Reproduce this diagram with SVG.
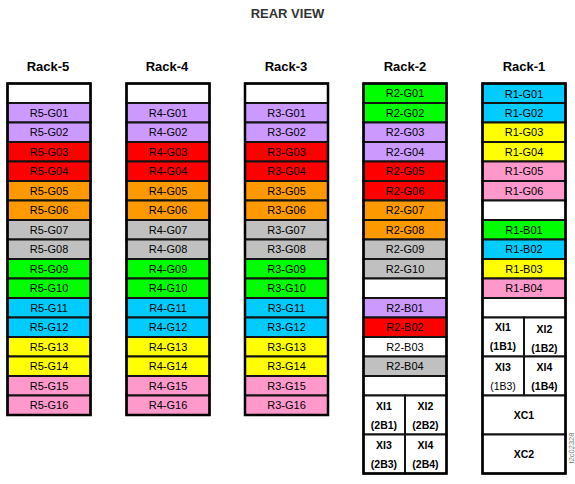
<svg xmlns="http://www.w3.org/2000/svg" width="575" height="484" viewBox="0 0 575 484">
<style>
text{font-family:"Liberation Sans",Arial,sans-serif;fill:#000;text-anchor:middle}
.title{font-size:13px;font-weight:bold;fill:#333}
.rl{font-size:13px;font-weight:bold}
.t{font-size:11px}
.b{font-size:10.5px;font-weight:bold}
.n{font-size:10.5px;font-weight:normal}
rect{stroke:#141414;stroke-width:2}
.rack{fill:none;stroke:#000;stroke-width:2.5}
.w{fill:#fff}.lv{fill:#cc99ff}.rd{fill:#ff0000}.or{fill:#ff9900}.gy{fill:#c0c0c0}.gn{fill:#00ff00}.cy{fill:#00ccff}.yl{fill:#ffff00}.pk{fill:#ff99cc}
.wm{font-size:7.5px;fill:#777}
</style>
<text class="title" x="287.5" y="18">REAR VIEW</text>
<g id="rack-labels">
<text class="rl" x="48" y="71">Rack-5</text>
<text class="rl" x="167" y="71">Rack-4</text>
<text class="rl" x="286" y="71">Rack-3</text>
<text class="rl" x="405" y="71">Rack-2</text>
<text class="rl" x="524" y="71">Rack-1</text>
</g>
<g id="connectors"/>

<g id="rack5">
<g id="r5-blank"><rect class="w" x="7.5" y="83.5" width="83" height="19.5"/></g>
<g id="R5-G01"><rect class="lv" x="7.5" y="103" width="83" height="19.5"/><text class="t" x="49" y="116.7">R5-G01</text></g>
<g id="R5-G02"><rect class="lv" x="7.5" y="122.5" width="83" height="19.5"/><text class="t" x="49" y="136.2">R5-G02</text></g>
<g id="R5-G03"><rect class="rd" x="7.5" y="142" width="83" height="19.5"/><text class="t" x="49" y="155.7">R5-G03</text></g>
<g id="R5-G04"><rect class="rd" x="7.5" y="161.5" width="83" height="19.5"/><text class="t" x="49" y="175.2">R5-G04</text></g>
<g id="R5-G05"><rect class="or" x="7.5" y="181" width="83" height="19.5"/><text class="t" x="49" y="194.7">R5-G05</text></g>
<g id="R5-G06"><rect class="or" x="7.5" y="200.5" width="83" height="19.5"/><text class="t" x="49" y="214.2">R5-G06</text></g>
<g id="R5-G07"><rect class="gy" x="7.5" y="220" width="83" height="19.5"/><text class="t" x="49" y="233.7">R5-G07</text></g>
<g id="R5-G08"><rect class="gy" x="7.5" y="239.5" width="83" height="19.5"/><text class="t" x="49" y="253.2">R5-G08</text></g>
<g id="R5-G09"><rect class="gn" x="7.5" y="259" width="83" height="19.5"/><text class="t" x="49" y="272.7">R5-G09</text></g>
<g id="R5-G10"><rect class="gn" x="7.5" y="278.5" width="83" height="19.5"/><text class="t" x="49" y="292.2">R5-G10</text></g>
<g id="R5-G11"><rect class="cy" x="7.5" y="298" width="83" height="19.5"/><text class="t" x="49" y="311.7">R5-G11</text></g>
<g id="R5-G12"><rect class="cy" x="7.5" y="317.5" width="83" height="19.5"/><text class="t" x="49" y="331.2">R5-G12</text></g>
<g id="R5-G13"><rect class="yl" x="7.5" y="337" width="83" height="19.5"/><text class="t" x="49" y="350.7">R5-G13</text></g>
<g id="R5-G14"><rect class="yl" x="7.5" y="356.5" width="83" height="19.5"/><text class="t" x="49" y="370.2">R5-G14</text></g>
<g id="R5-G15"><rect class="pk" x="7.5" y="376" width="83" height="19.5"/><text class="t" x="49" y="389.7">R5-G15</text></g>
<g id="R5-G16"><rect class="pk" x="7.5" y="395.5" width="83" height="19.5"/><text class="t" x="49" y="409.2">R5-G16</text></g>
<rect class="rack" x="7.5" y="83.5" width="83" height="331.5"/>
</g>

<g id="rack4">
<g id="r4-blank"><rect class="w" x="126.5" y="83.5" width="83" height="19.5"/></g>
<g id="R4-G01"><rect class="lv" x="126.5" y="103" width="83" height="19.5"/><text class="t" x="168" y="116.7">R4-G01</text></g>
<g id="R4-G02"><rect class="lv" x="126.5" y="122.5" width="83" height="19.5"/><text class="t" x="168" y="136.2">R4-G02</text></g>
<g id="R4-G03"><rect class="rd" x="126.5" y="142" width="83" height="19.5"/><text class="t" x="168" y="155.7">R4-G03</text></g>
<g id="R4-G04"><rect class="rd" x="126.5" y="161.5" width="83" height="19.5"/><text class="t" x="168" y="175.2">R4-G04</text></g>
<g id="R4-G05"><rect class="or" x="126.5" y="181" width="83" height="19.5"/><text class="t" x="168" y="194.7">R4-G05</text></g>
<g id="R4-G06"><rect class="or" x="126.5" y="200.5" width="83" height="19.5"/><text class="t" x="168" y="214.2">R4-G06</text></g>
<g id="R4-G07"><rect class="gy" x="126.5" y="220" width="83" height="19.5"/><text class="t" x="168" y="233.7">R4-G07</text></g>
<g id="R4-G08"><rect class="gy" x="126.5" y="239.5" width="83" height="19.5"/><text class="t" x="168" y="253.2">R4-G08</text></g>
<g id="R4-G09"><rect class="gn" x="126.5" y="259" width="83" height="19.5"/><text class="t" x="168" y="272.7">R4-G09</text></g>
<g id="R4-G10"><rect class="gn" x="126.5" y="278.5" width="83" height="19.5"/><text class="t" x="168" y="292.2">R4-G10</text></g>
<g id="R4-G11"><rect class="cy" x="126.5" y="298" width="83" height="19.5"/><text class="t" x="168" y="311.7">R4-G11</text></g>
<g id="R4-G12"><rect class="cy" x="126.5" y="317.5" width="83" height="19.5"/><text class="t" x="168" y="331.2">R4-G12</text></g>
<g id="R4-G13"><rect class="yl" x="126.5" y="337" width="83" height="19.5"/><text class="t" x="168" y="350.7">R4-G13</text></g>
<g id="R4-G14"><rect class="yl" x="126.5" y="356.5" width="83" height="19.5"/><text class="t" x="168" y="370.2">R4-G14</text></g>
<g id="R4-G15"><rect class="pk" x="126.5" y="376" width="83" height="19.5"/><text class="t" x="168" y="389.7">R4-G15</text></g>
<g id="R4-G16"><rect class="pk" x="126.5" y="395.5" width="83" height="19.5"/><text class="t" x="168" y="409.2">R4-G16</text></g>
<rect class="rack" x="126.5" y="83.5" width="83" height="331.5"/>
</g>

<g id="rack3">
<g id="r3-blank"><rect class="w" x="245" y="83.5" width="83" height="19.5"/></g>
<g id="R3-G01"><rect class="lv" x="245" y="103" width="83" height="19.5"/><text class="t" x="286.5" y="116.7">R3-G01</text></g>
<g id="R3-G02"><rect class="lv" x="245" y="122.5" width="83" height="19.5"/><text class="t" x="286.5" y="136.2">R3-G02</text></g>
<g id="R3-G03"><rect class="rd" x="245" y="142" width="83" height="19.5"/><text class="t" x="286.5" y="155.7">R3-G03</text></g>
<g id="R3-G04"><rect class="rd" x="245" y="161.5" width="83" height="19.5"/><text class="t" x="286.5" y="175.2">R3-G04</text></g>
<g id="R3-G05"><rect class="or" x="245" y="181" width="83" height="19.5"/><text class="t" x="286.5" y="194.7">R3-G05</text></g>
<g id="R3-G06"><rect class="or" x="245" y="200.5" width="83" height="19.5"/><text class="t" x="286.5" y="214.2">R3-G06</text></g>
<g id="R3-G07"><rect class="gy" x="245" y="220" width="83" height="19.5"/><text class="t" x="286.5" y="233.7">R3-G07</text></g>
<g id="R3-G08"><rect class="gy" x="245" y="239.5" width="83" height="19.5"/><text class="t" x="286.5" y="253.2">R3-G08</text></g>
<g id="R3-G09"><rect class="gn" x="245" y="259" width="83" height="19.5"/><text class="t" x="286.5" y="272.7">R3-G09</text></g>
<g id="R3-G10"><rect class="gn" x="245" y="278.5" width="83" height="19.5"/><text class="t" x="286.5" y="292.2">R3-G10</text></g>
<g id="R3-G11"><rect class="cy" x="245" y="298" width="83" height="19.5"/><text class="t" x="286.5" y="311.7">R3-G11</text></g>
<g id="R3-G12"><rect class="cy" x="245" y="317.5" width="83" height="19.5"/><text class="t" x="286.5" y="331.2">R3-G12</text></g>
<g id="R3-G13"><rect class="yl" x="245" y="337" width="83" height="19.5"/><text class="t" x="286.5" y="350.7">R3-G13</text></g>
<g id="R3-G14"><rect class="yl" x="245" y="356.5" width="83" height="19.5"/><text class="t" x="286.5" y="370.2">R3-G14</text></g>
<g id="R3-G15"><rect class="pk" x="245" y="376" width="83" height="19.5"/><text class="t" x="286.5" y="389.7">R3-G15</text></g>
<g id="R3-G16"><rect class="pk" x="245" y="395.5" width="83" height="19.5"/><text class="t" x="286.5" y="409.2">R3-G16</text></g>
<rect class="rack" x="245" y="83.5" width="83" height="331.5"/>
</g>

<g id="rack2">
<g id="R2-G01"><rect class="gn" x="363.5" y="83.5" width="83" height="19.5"/><text class="t" x="405" y="97.2">R2-G01</text></g>
<g id="R2-G02"><rect class="gn" x="363.5" y="103" width="83" height="19.5"/><text class="t" x="405" y="116.7">R2-G02</text></g>
<g id="R2-G03"><rect class="lv" x="363.5" y="122.5" width="83" height="19.5"/><text class="t" x="405" y="136.2">R2-G03</text></g>
<g id="R2-G04"><rect class="lv" x="363.5" y="142" width="83" height="19.5"/><text class="t" x="405" y="155.7">R2-G04</text></g>
<g id="R2-G05"><rect class="rd" x="363.5" y="161.5" width="83" height="19.5"/><text class="t" x="405" y="175.2">R2-G05</text></g>
<g id="R2-G06"><rect class="rd" x="363.5" y="181" width="83" height="19.5"/><text class="t" x="405" y="194.7">R2-G06</text></g>
<g id="R2-G07"><rect class="or" x="363.5" y="200.5" width="83" height="19.5"/><text class="t" x="405" y="214.2">R2-G07</text></g>
<g id="R2-G08"><rect class="or" x="363.5" y="220" width="83" height="19.5"/><text class="t" x="405" y="233.7">R2-G08</text></g>
<g id="R2-G09"><rect class="gy" x="363.5" y="239.5" width="83" height="19.5"/><text class="t" x="405" y="253.2">R2-G09</text></g>
<g id="R2-G10"><rect class="gy" x="363.5" y="259" width="83" height="19.5"/><text class="t" x="405" y="272.7">R2-G10</text></g>
<g id="r2-blank1"><rect class="w" x="363.5" y="278.5" width="83" height="19.5"/></g>
<g id="R2-B01"><rect class="lv" x="363.5" y="298" width="83" height="19.5"/><text class="t" x="405" y="311.7">R2-B01</text></g>
<g id="R2-B02"><rect class="rd" x="363.5" y="317.5" width="83" height="19.5"/><text class="t" x="405" y="331.2">R2-B02</text></g>
<g id="R2-B03"><rect class="w" x="363.5" y="337" width="83" height="19.5"/><text class="t" x="405" y="350.7">R2-B03</text></g>
<g id="R2-B04"><rect class="gy" x="363.5" y="356.5" width="83" height="19.5"/><text class="t" x="405" y="370.2">R2-B04</text></g>
<g id="r2-blank2"><rect class="w" x="363.5" y="376" width="83" height="19.5"/></g>
<g id="R2-XI1"><rect class="w" x="363.5" y="395.5" width="41.5" height="39"/><text class="b" x="384" y="409.5">XI1</text><text class="b" x="384" y="429">(2B1)</text></g>
<g id="R2-XI2"><rect class="w" x="405" y="395.5" width="41.5" height="39"/><text class="b" x="425.5" y="409.5">XI2</text><text class="b" x="425.5" y="429">(2B2)</text></g>
<g id="R2-XI3"><rect class="w" x="363.5" y="434.5" width="41.5" height="39"/><text class="b" x="384" y="448.5">XI3</text><text class="b" x="384" y="468">(2B3)</text></g>
<g id="R2-XI4"><rect class="w" x="405" y="434.5" width="41.5" height="39"/><text class="b" x="425.5" y="448.5">XI4</text><text class="b" x="425.5" y="468">(2B4)</text></g>
<rect class="rack" x="363.5" y="83.5" width="83" height="390"/>
</g>

<g id="rack1">
<g id="R1-G01"><rect class="cy" x="482.5" y="83.5" width="83" height="19.5"/><text class="t" x="524" y="97.7">R1-G01</text></g>
<g id="R1-G02"><rect class="cy" x="482.5" y="103" width="83" height="19.5"/><text class="t" x="524" y="117.2">R1-G02</text></g>
<g id="R1-G03"><rect class="yl" x="482.5" y="122.5" width="83" height="19.5"/><text class="t" x="524" y="136.2">R1-G03</text></g>
<g id="R1-G04"><rect class="yl" x="482.5" y="142" width="83" height="19.5"/><text class="t" x="524" y="155.7">R1-G04</text></g>
<g id="R1-G05"><rect class="pk" x="482.5" y="161.5" width="83" height="19.5"/><text class="t" x="524" y="175.2">R1-G05</text></g>
<g id="R1-G06"><rect class="pk" x="482.5" y="181" width="83" height="19.5"/><text class="t" x="524" y="194.7">R1-G06</text></g>
<g id="r1-blank1"><rect class="w" x="482.5" y="200.5" width="83" height="19.5"/></g>
<g id="R1-B01"><rect class="gn" x="482.5" y="220" width="83" height="19.5"/><text class="t" x="524" y="233.7">R1-B01</text></g>
<g id="R1-B02"><rect class="cy" x="482.5" y="239.5" width="83" height="19.5"/><text class="t" x="524" y="253.2">R1-B02</text></g>
<g id="R1-B03"><rect class="yl" x="482.5" y="259" width="83" height="19.5"/><text class="t" x="524" y="272.7">R1-B03</text></g>
<g id="R1-B04"><rect class="pk" x="482.5" y="278.5" width="83" height="19.5"/><text class="t" x="524" y="292.2">R1-B04</text></g>
<g id="r1-blank2"><rect class="w" x="482.5" y="298" width="83" height="19.5"/></g>
<g id="R1-XI1"><rect class="w" x="482.5" y="317.5" width="41.5" height="39"/><text class="b" x="503" y="331">XI1</text><text class="b" x="503" y="350">(1B1)</text></g>
<g id="R1-XI2"><rect class="w" x="524" y="317.5" width="41.5" height="39"/><text class="b" x="544.5" y="333">XI2</text><text class="b" x="544.5" y="352">(1B2)</text></g>
<g id="R1-XI3"><rect class="w" x="482.5" y="356.5" width="41.5" height="39"/><text class="b" x="503" y="371">XI3</text><text class="n" x="503" y="390">(1B3)</text></g>
<g id="R1-XI4"><rect class="w" x="524" y="356.5" width="41.5" height="39"/><text class="b" x="544.5" y="371">XI4</text><text class="b" x="544.5" y="390">(1B4)</text></g>
<g id="R1-XC1"><rect class="w" x="482.5" y="395.5" width="83" height="39"/><text class="b" x="524" y="419">XC1</text></g>
<g id="R1-XC2"><rect class="w" x="482.5" y="434.5" width="83" height="39"/><text class="b" x="524" y="458">XC2</text></g>
<rect class="rack" x="482.5" y="83.5" width="83" height="390"/>
</g>
<text class="wm" transform="translate(573.5,448) rotate(-90)">t2c02328</text>
</svg>
